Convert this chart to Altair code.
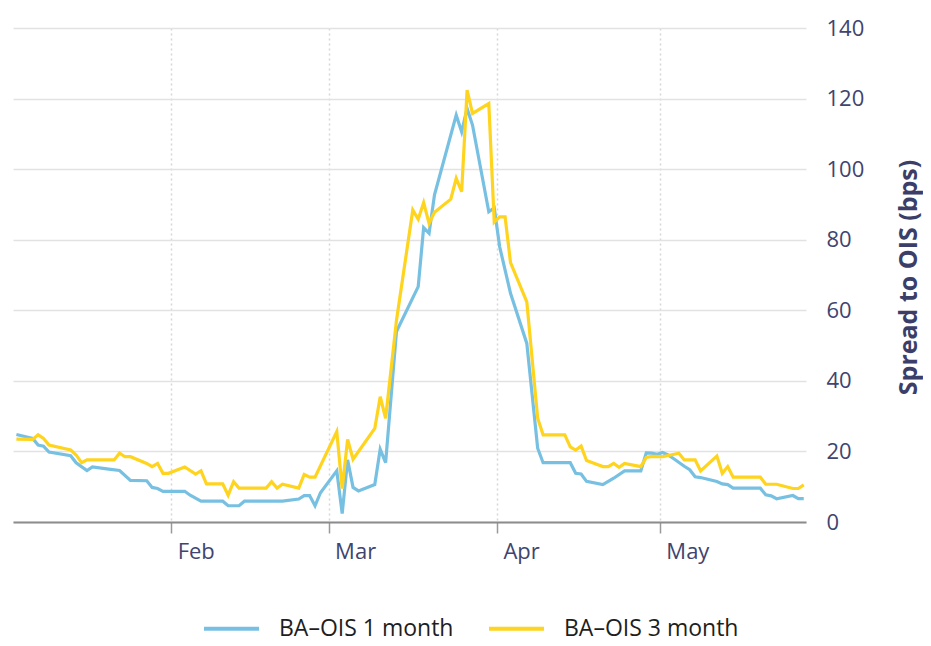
import altair as alt
import pandas as pd

# ---- data (business days, 2020) ----
dates_1m = [
    "2020-01-03", "2020-01-06", "2020-01-07", "2020-01-08", "2020-01-09", "2020-01-13",
    "2020-01-14", "2020-01-16", "2020-01-17", "2020-01-20", "2020-01-22", "2020-01-24",
    "2020-01-27", "2020-01-28", "2020-01-29", "2020-01-30", "2020-02-03", "2020-02-04",
    "2020-02-06", "2020-02-10", "2020-02-11", "2020-02-13", "2020-02-14", "2020-02-21",
    "2020-02-24", "2020-02-25", "2020-02-26", "2020-02-27", "2020-02-28", "2020-03-02",
    "2020-03-03", "2020-03-04", "2020-03-05", "2020-03-06", "2020-03-09", "2020-03-10",
    "2020-03-11", "2020-03-13", "2020-03-17", "2020-03-18", "2020-03-19", "2020-03-20",
    "2020-03-24", "2020-03-25", "2020-03-26", "2020-03-27", "2020-03-30", "2020-03-31",
    "2020-04-01", "2020-04-03", "2020-04-06", "2020-04-08", "2020-04-09", "2020-04-14",
    "2020-04-15", "2020-04-16", "2020-04-17", "2020-04-20", "2020-04-22", "2020-04-24",
    "2020-04-27", "2020-04-28", "2020-04-29", "2020-04-30", "2020-05-01", "2020-05-02",
    "2020-05-03", "2020-05-05", "2020-05-06", "2020-05-07", "2020-05-08", "2020-05-11",
    "2020-05-12", "2020-05-13", "2020-05-14", "2020-05-19", "2020-05-20", "2020-05-21",
    "2020-05-22", "2020-05-25", "2020-05-26", "2020-05-27",
]
vals_1m = [
    24.8, 23.7, 21.8, 21.5, 19.8, 18.8,
    16.8, 14.6, 15.6, 15.0, 14.6, 11.8,
    11.7, 9.8, 9.5, 8.7, 8.7, 7.6,
    5.9, 5.9, 4.6, 4.6, 5.9, 5.9,
    6.5, 7.5, 7.5, 4.6, 8.3, 14.5,
    2.4, 17.6, 9.8, 8.8, 10.6, 20.6,
    16.8, 54.0, 66.7, 83.4, 81.8, 92.7,
    115.3, 110.6, 117.2, 112.5, 87.9, 89.0,
    78.0, 64.8, 50.6, 20.9, 16.8, 16.8,
    13.8, 13.6, 11.5, 10.6, 12.4, 14.5,
    14.5, 19.6, 19.5, 19.2, 19.7, 19.0,
    18.0, 15.8, 14.8, 12.8, 12.6, 11.5,
    10.8, 10.6, 9.6, 9.6, 7.7, 7.4,
    6.6, 7.5, 6.6, 6.6,
]

dates_3m = [
    "2020-01-03", "2020-01-06", "2020-01-07", "2020-01-08", "2020-01-09", "2020-01-13",
    "2020-01-14", "2020-01-15", "2020-01-16", "2020-01-21", "2020-01-22", "2020-01-23",
    "2020-01-24", "2020-01-27", "2020-01-28", "2020-01-29", "2020-01-30", "2020-01-31",
    "2020-02-03", "2020-02-05", "2020-02-06", "2020-02-07", "2020-02-10", "2020-02-11",
    "2020-02-12", "2020-02-13", "2020-02-18", "2020-02-19", "2020-02-20", "2020-02-21",
    "2020-02-24", "2020-02-25", "2020-02-26", "2020-02-27", "2020-03-02", "2020-03-03",
    "2020-03-04", "2020-03-05", "2020-03-09", "2020-03-10", "2020-03-11", "2020-03-13",
    "2020-03-16", "2020-03-17", "2020-03-18", "2020-03-19", "2020-03-20", "2020-03-23",
    "2020-03-24", "2020-03-25", "2020-03-26", "2020-03-27", "2020-03-30", "2020-03-31",
    "2020-04-01", "2020-04-02", "2020-04-03", "2020-04-06", "2020-04-08", "2020-04-09",
    "2020-04-13", "2020-04-14", "2020-04-15", "2020-04-16", "2020-04-17", "2020-04-20",
    "2020-04-21", "2020-04-22", "2020-04-23", "2020-04-24", "2020-04-27", "2020-04-28",
    "2020-04-29", "2020-05-01", "2020-05-04", "2020-05-05", "2020-05-07", "2020-05-08",
    "2020-05-11", "2020-05-12", "2020-05-13", "2020-05-14", "2020-05-19", "2020-05-20",
    "2020-05-22", "2020-05-25", "2020-05-26", "2020-05-27",
]
vals_3m = [
    23.5, 23.4, 24.7, 23.7, 21.8, 20.4,
    19.0, 16.8, 17.6, 17.6, 19.5, 18.5,
    18.5, 16.6, 15.7, 16.6, 13.8, 13.8,
    15.6, 13.6, 14.5, 10.8, 10.8, 7.6,
    11.4, 9.6, 9.6, 11.4, 9.6, 10.7,
    9.6, 13.5, 12.7, 12.7, 25.6, 9.5,
    23.4, 17.8, 26.5, 35.5, 29.4, 57.2,
    88.4, 85.8, 90.5, 84.6, 87.8, 91.5,
    97.4, 93.6, 122.4, 115.8, 118.6, 85.0,
    86.5, 86.5, 73.5, 62.4, 29.4, 24.7,
    24.7, 21.3, 20.4, 21.5, 17.4, 15.7,
    15.7, 16.6, 15.5, 16.6, 15.7, 18.3,
    18.6, 18.5, 19.5, 17.6, 17.6, 14.5,
    18.7, 13.8, 15.7, 12.7, 12.7, 10.7,
    10.7, 9.5, 9.5, 10.5,
]

series_names = ["BA\u2013OIS 1 month", "BA\u2013OIS 3 month"]
series_colors = ["#78C0E2", "#FFD41F"]
y_ticks = [0, 20, 40, 60, 80, 100, 120, 140]

df = pd.concat([
    pd.DataFrame({"date": dates_1m, "value": vals_1m, "series": series_names[0]}),
    pd.DataFrame({"date": dates_3m, "value": vals_3m, "series": series_names[1]}),
], ignore_index=True)
# daily observations are plotted at mid-day
df["date"] = pd.to_datetime(df["date"]) + pd.Timedelta(hours=12)

label_color = "#40446f"

x_axis = alt.Axis(
    values=[alt.DateTime(year=2020, month=m, date=1) for m in (2, 3, 4, 5)],
    format="%b",
    title=None,
    labelAlign="left",
    labelOffset=6,
    labelPadding=8,
    labelFontSize=22,
    labelColor=label_color,
    labelFont="Open Sans",
    ticks=True,
    tickSize=11,
    tickColor="#9a9a9a",
    tickWidth=1.5,
    domainColor="#8c8c8c",
    domainWidth=2,
    grid=True,
    gridColor="#d6d6d6",
    gridDash=[2, 3],
    gridWidth=1.5,
)

y_axis = alt.Axis(
    orient="right",
    values=y_ticks,
    ticks=False,
    domain=False,
    grid=True,
    gridColor="#e2e2e2",
    gridWidth=1.5,
    labelPadding=20,
    labelFontSize=22,
    labelColor=label_color,
    labelFont="Open Sans",
    title="Spread to OIS (bps)",
    titleFont="Open Sans",
    titleFontSize=25,
    titleFontWeight="bold",
    titleColor="#3b3e68",
    titleAngle=270,
    titleAlign="center",
    titleBaseline="middle",
    titleX=102,
    titleY=249,
    titleLimit=400,
)

chart = (
    alt.Chart(df)
    .mark_line(strokeWidth=3.2)
    .encode(
        x=alt.X(
            "date:T",
            scale=alt.Scale(domain=[
                alt.DateTime(year=2020, month=1, date=2, hours=21),
                alt.DateTime(year=2020, month=5, date=27, hours=22),
            ]),
            axis=x_axis,
        ),
        y=alt.Y("value:Q", scale=alt.Scale(domain=[0, 140], nice=False), axis=y_axis),
        color=alt.Color(
            "series:N",
            scale=alt.Scale(domain=series_names, range=series_colors),
            legend=alt.Legend(
                title=None,
                orient="none",
                direction="horizontal",
                legendX=189,
                legendY=571,
                symbolType="stroke",
                symbolSize=3025,
                symbolStrokeWidth=4,
                labelFontSize=23,
                labelFont="Open Sans",
                labelColor="#1e1e1e",
                labelLimit=400,
                labelOffset=18,
                columnPadding=27,
            ),
        ),
    )
    .properties(
        width=793,
        height=494,
        autosize=alt.AutoSizeParams(type="none"),
        padding={"left": 5, "top": 20, "right": 117, "bottom": 116},
    )
    .configure(font="Open Sans", view=alt.ViewConfig(stroke=None))
)

chart.save("out.html", embed_options={"renderer": "svg", "actions": False})
